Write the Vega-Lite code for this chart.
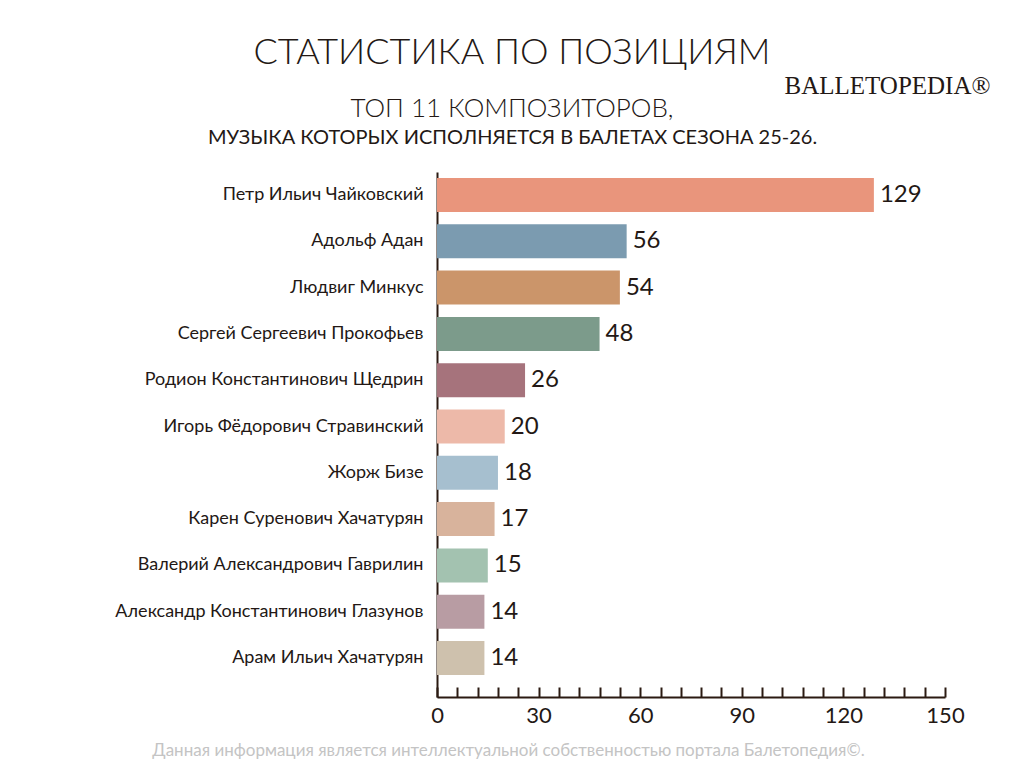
{
  "$schema": "https://vega.github.io/schema/vega-lite/v6.json",
  "width": 508,
  "height": 525,
  "autosize": {"type": "none"},
  "padding": {"left": 437, "top": 172, "right": 79, "bottom": 71},
  "background": "white",
  "title": {
    "text": "СТАТИСТИКА ПО ПОЗИЦИЯМ",
    "subtitle": "ТОП 11 КОМПОЗИТОРОВ,",
    "frame": "group",
    "anchor": "middle",
    "dx": -179,
    "offset": -50,
    "font": "Lato",
    "fontSize": 36,
    "fontWeight": 300,
    "color": "#231815",
    "subtitleFont": "Lato",
    "subtitleFontSize": 26,
    "subtitleFontWeight": 300,
    "subtitleColor": "#231815",
    "subtitlePadding": 24
  },
  "data": {
    "values": [
      {"composer": "Петр Ильич Чайковский", "count": 129},
      {"composer": "Адольф Адан", "count": 56},
      {"composer": "Людвиг Минкус", "count": 54},
      {"composer": "Сергей Сергеевич Прокофьев", "count": 48},
      {"composer": "Родион Константинович Щедрин", "count": 26},
      {"composer": "Игорь Фёдорович Стравинский", "count": 20},
      {"composer": "Жорж Бизе", "count": 18},
      {"composer": "Карен Суренович Хачатурян", "count": 17},
      {"composer": "Валерий Александрович Гаврилин", "count": 15},
      {"composer": "Александр Константинович Глазунов", "count": 14},
      {"composer": "Арам Ильич Хачатурян", "count": 14}
    ]
  },
  "encoding": {
    "x": {
      "field": "count",
      "type": "quantitative",
      "scale": {"domain": [0, 150], "nice": false},
      "axis": {
        "values": [0, 6, 12, 18, 24, 30, 36, 42, 48, 54, 60, 66, 72, 78, 84, 90, 96, 102, 108, 114, 120, 126, 132, 138, 144, 150],
        "labelExpr": "datum.value % 30 === 0 ? datum.label : ''",
        "labelOverlap": false,
        "labelFlush": false,
        "grid": false,
        "domainColor": "#2b1a12",
        "domainWidth": 2,
        "tickColor": "#2b1a12",
        "tickWidth": 2,
        "tickSize": -10,
        "labelPadding": 18,
        "labelFont": "Lato",
        "labelFontSize": 22,
        "labelColor": "#231815",
        "title": "Данная информация является интеллектуальной собственностью портала Балетопедия©.",
        "titleFont": "Lato",
        "titleFontSize": 17,
        "titleFontWeight": "normal",
        "titleColor": "#c4c4c4",
        "titleX": 71,
        "titleY": 58,
        "titleAlign": "center",
        "titleBaseline": "alphabetic"
      }
    }
  },
  "layer": [
    {
      "mark": {"type": "bar"},
      "encoding": {
        "y": {
          "field": "composer",
          "type": "nominal",
          "sort": null,
          "scale": {"paddingInner": 0.266, "paddingOuter": 0.302, "align": 0.214},
          "axis": {
            "domainColor": "#2b1a12",
            "domainWidth": 2,
            "tickColor": "#2b1a12",
            "tickWidth": 2,
            "tickSize": -10,
            "labelPadding": 24,
            "labelFont": "Lato",
            "labelFontSize": 18,
            "labelColor": "#231815",
            "labelLimit": 400,
            "title": "МУЗЫКА КОТОРЫХ ИСПОЛНЯЕТСЯ В БАЛЕТАХ СЕЗОНА 25-26.",
            "titleFont": "Lato",
            "titleFontSize": 20,
            "titleFontWeight": "normal",
            "titleColor": "#231815",
            "titleAngle": 0,
            "titleX": 75,
            "titleY": -29,
            "titleAlign": "center",
            "titleBaseline": "alphabetic"
          }
        },
        "color": {
          "field": "composer",
          "type": "nominal",
          "legend": null,
          "scale": {
            "domain": ["Петр Ильич Чайковский", "Адольф Адан", "Людвиг Минкус", "Сергей Сергеевич Прокофьев", "Родион Константинович Щедрин", "Игорь Фёдорович Стравинский", "Жорж Бизе", "Карен Суренович Хачатурян", "Валерий Александрович Гаврилин", "Александр Константинович Глазунов", "Арам Ильич Хачатурян"],
            "range": ["#E9957C", "#7B9BB0", "#CB956A", "#7C9B8B", "#A6737C", "#EDB9A9", "#A6BFCF", "#D8B39C", "#A3C2B0", "#B89CA3", "#CEC1AD"]
          }
        }
      }
    },
    {
      "mark": {"type": "text", "align": "left", "baseline": "middle", "dx": 6, "font": "Lato", "fontSize": 24, "color": "#231815"},
      "encoding": {
        "y": {
          "field": "composer",
          "type": "nominal",
          "sort": null,
          "axis": {
            "orient": "right",
            "domain": false,
            "ticks": false,
            "labels": false,
            "grid": false,
            "title": "BALLETOPEDIA®",
            "titleFont": "Liberation Serif",
            "titleFontSize": 25,
            "titleFontWeight": "normal",
            "titleColor": "#231815",
            "titleAngle": 0,
            "titleX": 45,
            "titleY": -79,
            "titleAlign": "right",
            "titleBaseline": "alphabetic"
          }
        },
        "text": {"field": "count", "type": "quantitative"}
      }
    }
  ],
  "resolve": {"axis": {"y": "independent"}},
  "config": {
    "view": {"stroke": null}
  }
}
